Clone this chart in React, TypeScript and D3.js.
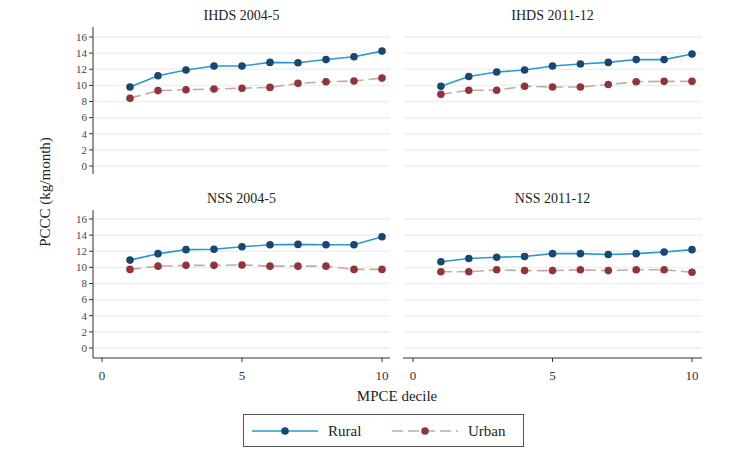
import React, { useEffect, useRef } from "react";
import * as d3 from "d3";

const deciles = [1, 2, 3, 4, 5, 6, 7, 8, 9, 10];
const panelTitles = ["IHDS 2004-5", "IHDS 2011-12", "NSS 2004-5", "NSS 2011-12"];
const ruralValues = [
  [9.8, 11.2, 11.9, 12.4, 12.4, 12.85, 12.8, 13.2, 13.55, 14.25],
  [9.9, 11.1, 11.65, 11.9, 12.4, 12.65, 12.85, 13.2, 13.2, 13.9],
  [10.9, 11.7, 12.2, 12.25, 12.55, 12.8, 12.85, 12.8, 12.8, 13.8],
  [10.7, 11.1, 11.25, 11.35, 11.7, 11.7, 11.6, 11.7, 11.9, 12.2],
];
const urbanValues = [
  [8.4, 9.35, 9.45, 9.55, 9.65, 9.75, 10.25, 10.45, 10.55, 10.9],
  [8.9, 9.4, 9.4, 9.9, 9.8, 9.8, 10.1, 10.45, 10.5, 10.5],
  [9.75, 10.15, 10.25, 10.25, 10.3, 10.15, 10.15, 10.15, 9.75, 9.75],
  [9.45, 9.45, 9.7, 9.6, 9.6, 9.7, 9.6, 9.7, 9.7, 9.4],
];
const yTicks = [0, 2, 4, 6, 8, 10, 12, 14, 16];
const xTicks = [0, 5, 10];

const W = 751;
const H = 454;
const FONT = "'Liberation Serif', 'DejaVu Serif', serif";
const ruralLine = "#2a9ac9";
const ruralDot = "#1a476f";
const urbanLine = "#c8a8a4";
const urbanDot = "#90353b";
const gridColor = "#e9f1f3";
const urbanDash = "11,5";

const App = () => {
  const svgRef = useRef<SVGSVGElement | null>(null);

  useEffect(() => {
    const svg = d3.select(svgRef.current);
    svg.selectAll("*").remove();
    svg.append("rect").attr("width", W).attr("height", H).attr("fill", "white");

    // panel boxes in px
    const cols = [
      { x0: 93, x1: 390, r0: 102, r1: 382 },
      { x0: 403, x1: 702, r0: 413, r1: 692 },
    ];
    const rows = [
      { y0: 27, y1: 174, r0: 166, r1: 37, titleY: 20 },
      { y0: 210, y1: 358, r0: 348, r1: 219, titleY: 203 },
    ];

    panelTitles.forEach((title, i) => {
      const c = cols[i % 2];
      const r = rows[Math.floor(i / 2)];
      const x = d3.scaleLinear().domain([0, 10]).range([c.r0, c.r1]);
      const y = d3.scaleLinear().domain([0, 16]).range([r.r0, r.r1]);
      const g = svg.append("g");

      // gridlines
      g.selectAll(".grid")
        .data(yTicks)
        .enter()
        .append("line")
        .attr("x1", c.x0 + 1)
        .attr("x2", c.x1)
        .attr("y1", (d) => y(d))
        .attr("y2", (d) => y(d))
        .attr("stroke", gridColor)
        .attr("stroke-width", 1.5);

      g.append("text")
        .attr("x", (c.x0 + c.x1) / 2)
        .attr("y", r.titleY)
        .attr("text-anchor", "middle")
        .style("font-family", FONT)
        .style("font-size", "14px")
        .attr("fill", "#222")
        .text(title);

      // y axis on left column
      if (i % 2 === 0) {
        const ya = g.append("g").attr("transform", `translate(${c.x0},0)`);
        ya.append("line")
          .attr("y1", r.y0)
          .attr("y2", r.y1)
          .attr("stroke", "#333")
          .attr("stroke-width", 1);
        ya.selectAll(".tk")
          .data(yTicks)
          .enter()
          .append("line")
          .attr("x1", -4)
          .attr("x2", 0)
          .attr("y1", (d) => y(d))
          .attr("y2", (d) => y(d))
          .attr("stroke", "#333");
        ya.selectAll(".tl")
          .data(yTicks)
          .enter()
          .append("text")
          .attr("x", -6)
          .attr("y", (d) => y(d))
          .attr("dy", "0.35em")
          .attr("text-anchor", "end")
          .style("font-family", FONT)
          .style("font-size", "11px")
          .attr("fill", "#444")
          .text((d) => d);
      }

      // x axis on bottom row
      if (i >= 2) {
        const xa = g.append("g").attr("transform", `translate(0,${r.y1})`);
        xa.append("line")
          .attr("x1", c.x0)
          .attr("x2", c.x1)
          .attr("stroke", "#333");
        xa.selectAll(".tk")
          .data(xTicks)
          .enter()
          .append("line")
          .attr("x1", (d) => x(d))
          .attr("x2", (d) => x(d))
          .attr("y1", 0)
          .attr("y2", 4)
          .attr("stroke", "#333");
        xa.selectAll(".tl")
          .data(xTicks)
          .enter()
          .append("text")
          .attr("x", (d) => x(d))
          .attr("y", 22)
          .attr("text-anchor", "middle")
          .style("font-family", FONT)
          .style("font-size", "13px")
          .attr("fill", "#333")
          .text((d) => d);
      }

      const series = [
        { vals: urbanValues[i], line: urbanLine, dot: urbanDot, dash: urbanDash },
        { vals: ruralValues[i], line: ruralLine, dot: ruralDot, dash: null },
      ];
      series.forEach((s) => {
        const pts = deciles.map((d, k) => [d, s.vals[k]] as [number, number]);
        const lineGen = d3
          .line<[number, number]>()
          .x((d) => x(d[0]))
          .y((d) => y(d[1]));
        g.append("path")
          .datum(pts)
          .attr("d", lineGen)
          .attr("fill", "none")
          .attr("stroke", s.line)
          .attr("stroke-width", 1.6)
          .attr("stroke-dasharray", s.dash);
        g.selectAll(null)
          .data(pts)
          .enter()
          .append("circle")
          .attr("cx", (d) => x(d[0]))
          .attr("cy", (d) => y(d[1]))
          .attr("r", 3.8)
          .attr("fill", s.dot);
      });
    });

    // axis titles
    svg.append("text")
      .attr("transform", "translate(50,192) rotate(-90)")
      .attr("text-anchor", "middle")
      .style("font-family", FONT)
      .style("font-size", "15px")
      .attr("fill", "#222")
      .text("PCCC (kg/month)");
    svg.append("text")
      .attr("x", 397)
      .attr("y", 401)
      .attr("text-anchor", "middle")
      .style("font-family", FONT)
      .style("font-size", "15px")
      .attr("fill", "#222")
      .text("MPCE decile");

    // legend
    const lg = svg.append("g");
    lg.append("rect")
      .attr("x", 243.5)
      .attr("y", 414.5)
      .attr("width", 280)
      .attr("height", 32)
      .attr("fill", "white")
      .attr("stroke", "#555")
      .attr("stroke-width", 1);
    const items = [
      { label: "Rural", x: 252, line: ruralLine, dot: ruralDot, dash: null },
      { label: "Urban", x: 392, line: urbanLine, dot: urbanDot, dash: urbanDash },
    ];
    items.forEach((it) => {
      lg.append("line")
        .attr("x1", it.x)
        .attr("x2", it.x + 66)
        .attr("y1", 431)
        .attr("y2", 431)
        .attr("stroke", it.line)
        .attr("stroke-width", 1.6)
        .attr("stroke-dasharray", it.dash);
      lg.append("circle")
        .attr("cx", it.x + 33)
        .attr("cy", 431)
        .attr("r", 3.8)
        .attr("fill", it.dot);
      lg.append("text")
        .attr("x", it.x + 76)
        .attr("y", 431)
        .attr("dy", "0.35em")
        .style("font-family", FONT)
        .style("font-size", "15px")
        .attr("fill", "#222")
        .text(it.label);
    });
  }, []);

  return (
    <svg
      ref={svgRef}
      width={W}
      height={H}
      style={{ position: "absolute", left: 0, top: 0, display: "block" }}
    ></svg>
  );
};

export default App;
